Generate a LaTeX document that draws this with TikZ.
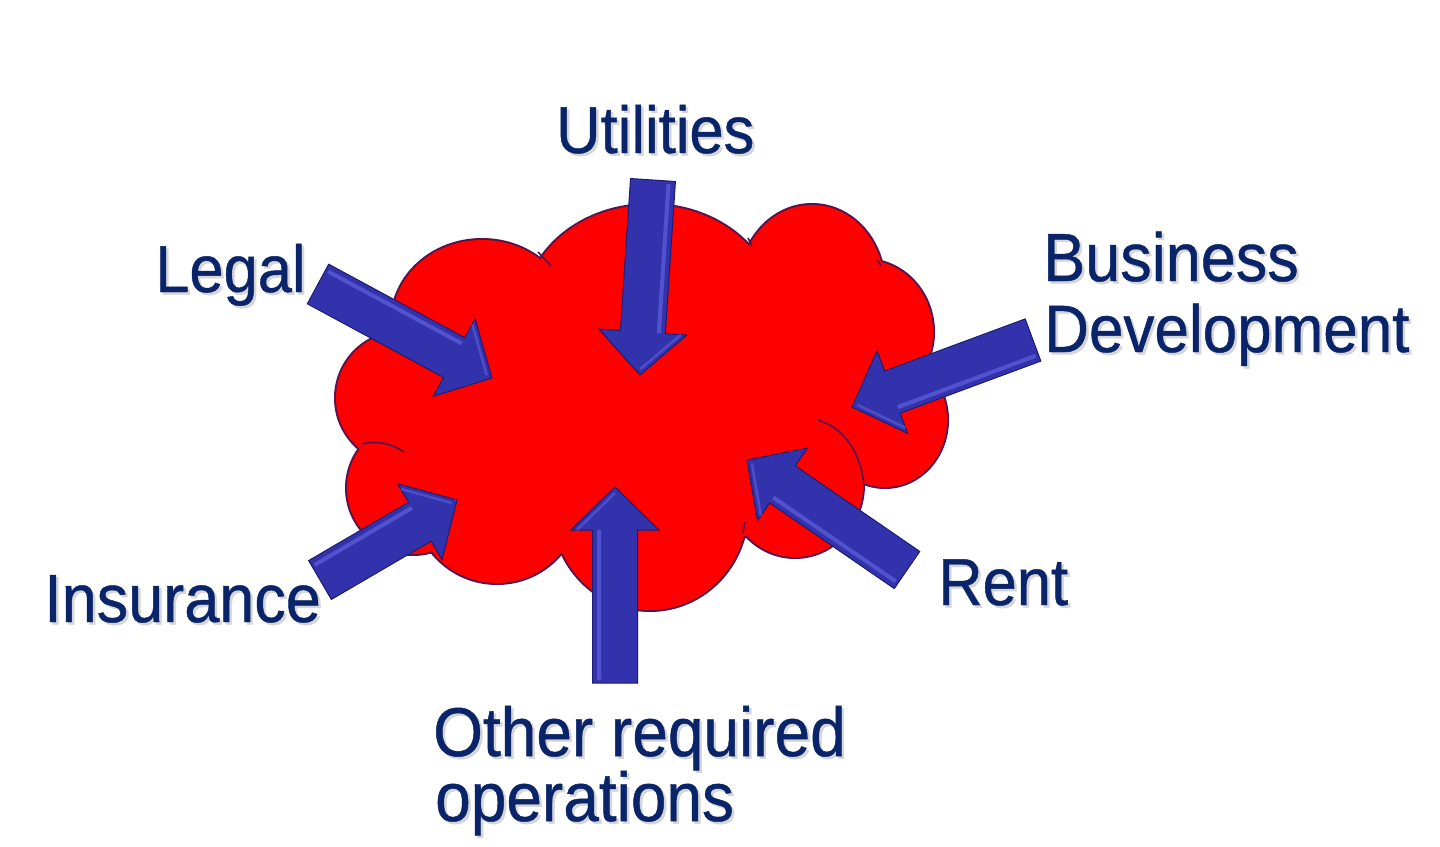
\documentclass[tikz,border=0pt]{standalone}
\usepackage{fontspec}
\usepackage{graphicx}
\setmainfont{Liberation Sans}
\newfontfamily\lblfont{Liberation Sans}[FakeBold=0.7]
\usetikzlibrary{calc}
\definecolor{txtnavy}{RGB}{10,36,106}
\definecolor{arrfill}{RGB}{50,50,172}
\definecolor{arredge}{RGB}{28,28,112}
\definecolor{arrlight}{RGB}{110,110,235}
\definecolor{cloudred}{RGB}{255,0,0}
\definecolor{cloudedge}{RGB}{85,20,75}
\tikzset{
  cloudlobes/.style={insert path={
    (640,400) ellipse [x radius=250, y radius=150]
    (482,322) ellipse [x radius=90, y radius=82]
    (650,310) ellipse [x radius=125, y radius=105]
    (812,285) ellipse [x radius=72, y radius=80]
    (865,332) ellipse [x radius=68, y radius=72]
    (885,420) ellipse [x radius=62, y radius=67]
    (795,485) ellipse [x radius=68, y radius=72]
    (650,510) ellipse [x radius=97, y radius=100]
    (497,500) circle [radius=83]
    (413,488) circle [radius=66]
    (402,398) circle [radius=66]
  }},
  innerarc/.style={draw=cloudedge, line width=1.6pt},
  lbl/.style={anchor=base west, inner sep=0pt, text=txtnavy},
  lblshadow/.style={anchor=base west, inner sep=0pt, text=black!16}
}
\newcommand\blockarr[2]{%
  \coordinate (#1b) at ($(#2)!43pt!(#1)$);
  \path[fill=arrfill, draw=arredge, line width=1pt, line join=miter]
    ($(#1)!22.5pt!90:(#2)$) -- ($(#1b)!22.5pt!-90:(#1)$) --
    ($(#1b)!44pt!-90:(#1)$) -- (#2) -- ($(#1b)!44pt!90:(#1)$) --
    ($(#1b)!22.5pt!90:(#1)$) -- ($(#1)!22.5pt!-90:(#2)$) -- cycle;
  \draw[arrlight, line width=4pt, opacity=0.55]
    ($($(#1)!16pt!90:(#2)$)!3pt!(#2)$) -- ($(#1b)!16pt!-90:(#1)$);
  \draw[arrlight, line width=2.5pt, opacity=0.45]
    ($(#1b)!38pt!-90:(#1)$) -- ($(#2)!6pt!(#1b)$);
}
% name, position of baseline start, font size, text
\newcommand\lbltext[4]{%
  \node[lblshadow] at ($(#2)+(2.5,2.5)$)
    {\scalebox{1}[1.08]{\fontsize{#3}{#3}\lblfont #4}};
  \node[lbl] (#1) at (#2)
    {\scalebox{1}[1.08]{\fontsize{#3}{#3}\lblfont #4}};
}
\begin{document}
\begin{tikzpicture}[x=1pt, y=-1pt]
\useasboundingbox (0,0) rectangle (1440,846);
\fill[white] (0,0) rectangle (1440,846);
% cloud: outline of the union, then the fill
\path[draw=cloudedge, line width=4pt, cloudlobes];
\path[fill=cloudred, cloudlobes];
% inner arcs of the cloud
\path[innerarc] (362,444) .. controls (378,440) and (392,444) .. (404,452);
\path[innerarc] (818,420) .. controls (845,428) and (862,455) .. (864,487);
\path[innerarc] (538,252) -- (551,266);
\path[innerarc] (748,238) -- (752,246);
\path[innerarc] (877,260) -- (881,266);
\path[innerarc] (743,533) -- (745,522);
% arrows: tail and tip of each
\coordinate (uT) at (653,180); \coordinate (uH) at (640,375);
\coordinate (lT) at (318,284); \coordinate (lH) at (492,378);
\coordinate (bT) at (1033,340); \coordinate (bH) at (852,407);
\coordinate (rT) at (907,570); \coordinate (rH) at (747,460);
\coordinate (iT) at (320,580); \coordinate (iH) at (457,500);
\coordinate (oT) at (615,683); \coordinate (oH) at (615,487);
\blockarr{uT}{uH}
\blockarr{lT}{lH}
\blockarr{bT}{bH}
\blockarr{rT}{rH}
\blockarr{iT}{iH}
\blockarr{oT}{oH}
% labels
\lbltext{utilities}{556,153}{61.5}{Utilities}
\lbltext{legal}{155,292}{61.5}{Legal}
\lbltext{business}{1043,281}{63}{Business}
\lbltext{development}{1044,352}{62}{Development}
\lbltext{insurance}{44,622}{63}{Insurance}
\lbltext{rent}{938,605}{61.5}{Rent}
\lbltext{other}{433,756}{64}{Other required}
\lbltext{operations}{435,821}{64}{operations}
\end{tikzpicture}
\end{document}
